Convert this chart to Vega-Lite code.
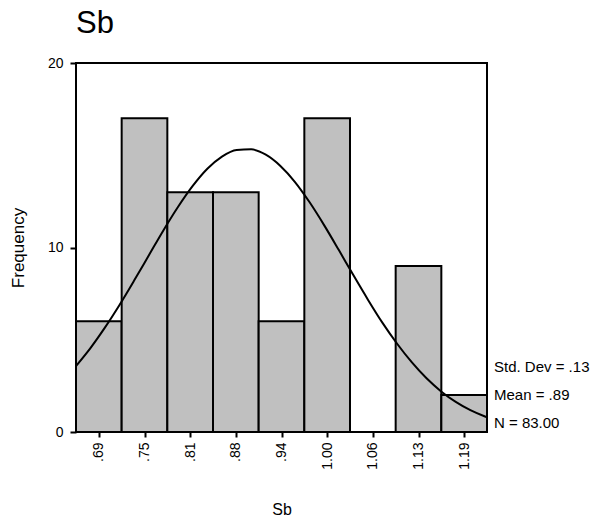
{
  "$schema": "https://vega.github.io/schema/vega-lite/v6.json",
  "autosize": {"type": "none"},
  "padding": {"left": 76, "top": 63, "right": 108, "bottom": 89},
  "width": 411,
  "height": 369,
  "background": "white",
  "title": {"text": "Sb", "anchor": "start", "frame": "group", "fontSize": 31, "font": "Liberation Sans", "fontWeight": "normal", "color": "black", "offset": 16, "dx": 0},
  "config": {
    "view": {"stroke": "black", "strokeWidth": 2},
    "font": "Liberation Sans",
    "axis": {"domain": false, "grid": false, "tickColor": "black", "tickWidth": 2, "labelColor": "black", "titleColor": "black", "labelFont": "Liberation Sans", "titleFont": "Liberation Sans", "titleFontWeight": "normal"}
  },
  "datasets": {
    "bins": [
      {"lo": 0.65625, "hi": 0.71875, "count": 6},
      {"lo": 0.71875, "hi": 0.78125, "count": 17},
      {"lo": 0.78125, "hi": 0.84375, "count": 13},
      {"lo": 0.84375, "hi": 0.90625, "count": 13},
      {"lo": 0.90625, "hi": 0.96875, "count": 6},
      {"lo": 0.96875, "hi": 1.03125, "count": 17},
      {"lo": 1.09375, "hi": 1.15625, "count": 9},
      {"lo": 1.15625, "hi": 1.21875, "count": 2}
    ],
    "curve": [
      {"v": 0.6565, "f": 3.59},
      {"v": 0.676, "f": 4.55},
      {"v": 0.696, "f": 5.67},
      {"v": 0.716, "f": 6.90},
      {"v": 0.736, "f": 8.22},
      {"v": 0.756, "f": 9.58},
      {"v": 0.776, "f": 10.94},
      {"v": 0.796, "f": 12.21},
      {"v": 0.816, "f": 13.34},
      {"v": 0.836, "f": 14.27},
      {"v": 0.856, "f": 14.93},
      {"v": 0.876, "f": 15.29},
      {"v": 0.896, "f": 15.32},
      {"v": 0.916, "f": 15.03},
      {"v": 0.936, "f": 14.42},
      {"v": 0.956, "f": 13.55},
      {"v": 0.976, "f": 12.45},
      {"v": 0.996, "f": 11.20},
      {"v": 1.016, "f": 9.86},
      {"v": 1.036, "f": 8.49},
      {"v": 1.056, "f": 7.16},
      {"v": 1.076, "f": 5.90},
      {"v": 1.096, "f": 4.77},
      {"v": 1.116, "f": 3.77},
      {"v": 1.136, "f": 2.91},
      {"v": 1.156, "f": 2.20},
      {"v": 1.176, "f": 1.63},
      {"v": 1.196, "f": 1.18},
      {"v": 1.216, "f": 0.84},
      {"v": 1.21875, "f": 0.80}
    ],
    "stats": [
      {"stat": "Std. Dev = .13"},
      {"stat": "Mean = .89"},
      {"stat": "N = 83.00"}
    ]
  },
  "layer": [
    {
      "data": {"name": "bins"},
      "mark": {"type": "bar", "fill": "#c0c0c0", "stroke": "black", "strokeWidth": 2},
      "encoding": {
        "x": {
          "field": "lo", "type": "quantitative",
          "scale": {"domain": [0.65625, 1.21875], "nice": false, "zero": false},
          "axis": {
            "title": "Sb", "titleFontSize": 16, "titlePadding": 32,
            "values": [0.6875, 0.75, 0.8125, 0.875, 0.9375, 1.0, 1.0625, 1.125, 1.1875],
            "labelExpr": "['.69','.75','.81','.88','.94','1.00','1.06','1.13','1.19'][round((datum.value - 0.6875) / 0.0625)]",
            "labelAngle": -90, "labelAlign": "right", "labelBaseline": "middle",
            "labelFontSize": 14, "labelPadding": 5, "tickSize": 5
          }
        },
        "x2": {"field": "hi"},
        "y": {
          "field": "count", "type": "quantitative",
          "scale": {"domain": [0, 20], "nice": false},
          "axis": {"title": "Frequency", "titleFontSize": 17, "titlePadding": 20, "values": [0, 10, 20], "labelFontSize": 14, "labelPadding": 7, "tickSize": 6}
        },
        "y2": {"datum": 0}
      }
    },
    {
      "data": {"name": "curve"},
      "mark": {"type": "line", "color": "black", "strokeWidth": 2, "interpolate": "monotone", "clip": true},
      "encoding": {
        "x": {"field": "v", "type": "quantitative"},
        "y": {"field": "f", "type": "quantitative"}
      }
    },
    {
      "data": {"name": "stats"},
      "mark": {"type": "point", "opacity": 0},
      "encoding": {
        "color": {
          "field": "stat", "type": "nominal",
          "scale": {"domain": ["Std. Dev = .13", "Mean = .89", "N = 83.00"], "range": ["black", "black", "black"]},
          "legend": {
            "title": null, "orient": "none", "legendX": 403, "legendY": 296,
            "padding": 0, "symbolSize": 0, "symbolOpacity": 0, "symbolStrokeWidth": 0,
            "labelFontSize": 15, "labelFont": "Liberation Sans", "labelColor": "black",
            "labelOffset": 0, "rowPadding": 12
          }
        }
      }
    }
  ]
}
